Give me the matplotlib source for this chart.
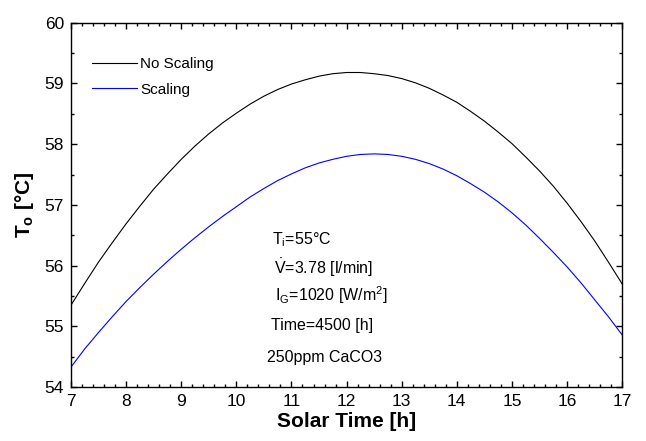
import numpy as np
import matplotlib
matplotlib.use('Agg')
import matplotlib.pyplot as plt
from matplotlib.ticker import MultipleLocator

plt.rcParams['font.family'] = ['Liberation Sans', 'DejaVu Sans']
plt.rcParams['mathtext.fontset'] = 'custom'
plt.rcParams['mathtext.rm'] = 'Liberation Sans'
plt.rcParams['mathtext.it'] = 'Liberation Sans:italic'
plt.rcParams['mathtext.bf'] = 'Liberation Sans:bold'

# solar time [h]
hours = [7.0, 7.25, 7.5, 7.75, 8.0, 8.25, 8.5, 8.75, 9.0, 9.25, 9.5, 9.75,
         10.0, 10.25, 10.5, 10.75, 11.0, 11.25, 11.5, 11.75, 12.0, 12.25,
         12.5, 12.75, 13.0, 13.25, 13.5, 13.75, 14.0, 14.25, 14.5, 14.75,
         15.0, 15.25, 15.5, 15.75, 16.0, 16.25, 16.5, 16.75, 17.0]
# outlet temperature [C]
no_scaling = [55.35, 55.71, 56.06, 56.38, 56.69, 56.98, 57.26, 57.51, 57.75, 57.97, 58.17, 58.35,
              58.51, 58.66, 58.79, 58.90, 58.99, 59.06, 59.12, 59.16, 59.18, 59.18,
              59.16, 59.13, 59.08, 59.01, 58.92, 58.81, 58.69, 58.54, 58.38, 58.20,
              58.01, 57.79, 57.56, 57.31, 57.03, 56.73, 56.41, 56.06, 55.70]
scaling = [54.33, 54.63, 54.90, 55.16, 55.41, 55.64, 55.86, 56.07, 56.27, 56.46, 56.64, 56.81,
           56.97, 57.13, 57.27, 57.40, 57.51, 57.61, 57.69, 57.75, 57.80, 57.83,
           57.84, 57.83, 57.80, 57.75, 57.68, 57.59, 57.48, 57.35, 57.21, 57.05,
           56.87, 56.67, 56.45, 56.22, 55.98, 55.72, 55.44, 55.16, 54.86]

notes = [r'T$_\mathrm{i}$=55°C',
         r'$\dot{\mathrm{V}}$=3.78 [l/min]',
         r'I$_\mathrm{G}$=1020 [W/m$^2$]',
         'Time=4500 [h]',
         '250ppm CaCO3']
note_x = [10.65, 10.69, 10.71, 10.62, 10.55]
note_y = [56.42, 55.96, 55.51, 55.02, 54.49]

fig = plt.figure(figsize=(6.46, 4.41), dpi=100)
ax = fig.add_axes([0.110, 0.1224, 0.853, 0.8261])

ax.plot(hours, no_scaling, color='black', lw=0.8, label='No Scaling')
ax.plot(hours, scaling, color='blue', lw=0.8, label='Scaling')

for t, x, y in zip(notes, note_x, note_y):
    ax.text(x, y, t, fontsize=11.5, va='center', ha='left')

ax.set_xlim(7, 17)
ax.set_ylim(54, 60)
ax.xaxis.set_major_locator(MultipleLocator(1))
ax.xaxis.set_minor_locator(MultipleLocator(0.2))
ax.yaxis.set_major_locator(MultipleLocator(1))
ax.yaxis.set_minor_locator(MultipleLocator(0.5))
ax.tick_params(which='both', direction='in', top=True, right=True, labelsize=12.5, width=1)
ax.tick_params(which='major', length=4, pad=5)
ax.tick_params(which='minor', length=2.5)
for s in ax.spines.values():
    s.set_linewidth(1.0)

ax.set_xlabel('Solar Time [h]', fontsize=15, fontweight='bold', labelpad=2)
ax.set_ylabel(r'T$_\mathbf{o}$ [°C]', fontsize=15, fontweight='bold', labelpad=6)

ax.legend(loc='upper left', frameon=False, fontsize=11, handlelength=2.95,
          handletextpad=0.2, bbox_to_anchor=(0.013, 0.943), labelspacing=0.75)

fig.savefig('out.png', dpi=100)
